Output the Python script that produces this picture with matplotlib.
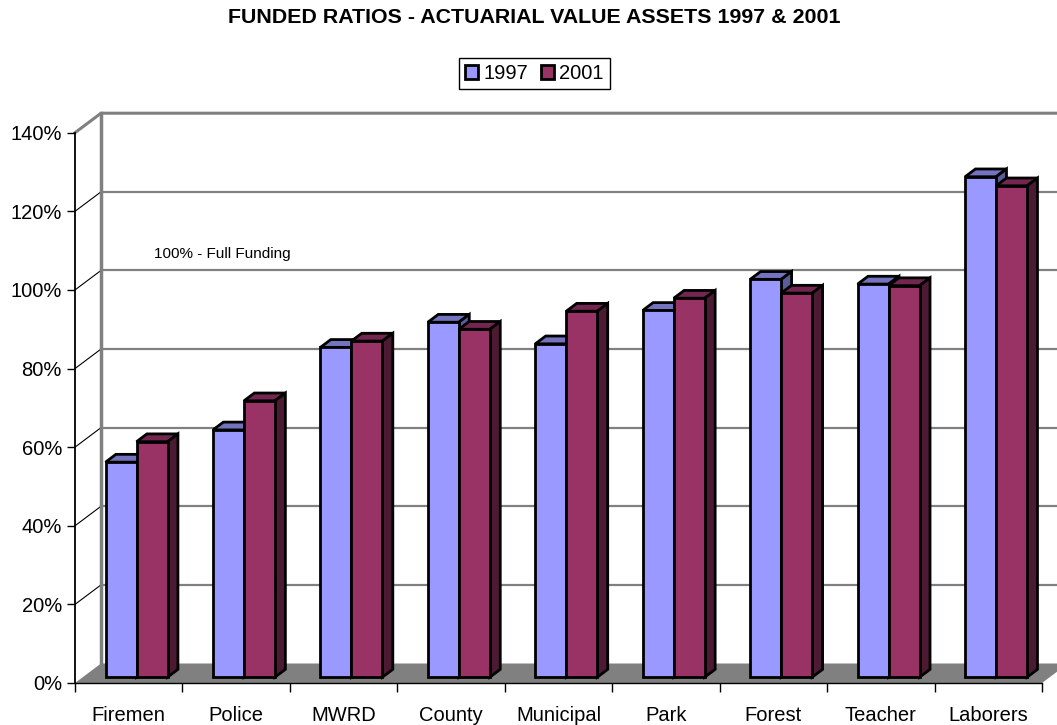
import matplotlib
matplotlib.use("Agg")
import matplotlib.pyplot as plt
from matplotlib.patches import Polygon, Patch
import numpy as np

categories = ["Firemen", "Police", "MWRD", "County", "Municipal", "Park", "Forest", "Teacher", "Laborers"]
funded_1997 = [54.7, 62.9, 83.9, 90.3, 84.8, 93.3, 101.2, 100.0, 127.3]
funded_2001 = [59.9, 70.3, 85.5, 88.5, 93.1, 96.4, 97.7, 99.6, 125.0]
y_ticks = [0, 20, 40, 60, 80, 100, 120, 140]
series = ["1997", "2001"]

# front / top / side colours of each series
front_cols = ["#9999FF", "#993366"]
top_cols = ["#7373BF", "#732650"]
side_cols = ["#5C5C99", "#4D1A33"]

plt.rcParams['font.family'] = ['Liberation Sans', 'DejaVu Sans']

W_PX, H_PX = 1057, 725
fig = plt.figure(figsize=(W_PX / 100, H_PX / 100), dpi=100)
ax = fig.add_axes([75 / W_PX, 42 / H_PX, 967 / W_PX, 550.3 / H_PX])
n = len(categories)
x0, x1 = -0.5, n - 0.5
ax.set_xlim(x0, x1)
ax.set_ylim(0, 140)
ax.patch.set_visible(False)

# depth of the fake 3d box, in data units
DX, DY = 0.242, 4.96
W = 0.2885
Z_FRONT, Z_BACK = 0.3, 0.7
LW = 2.0

# floor
ax.add_patch(Polygon([(x0, 0), (x1, 0), (x1 + DX, DY), (x0 + DX, DY)], closed=True,
                     fc='#808080', ec='none', clip_on=False, zorder=1))

# back wall + side wall lines
for v in y_ticks[1:-1]:
    ax.plot([x0 + DX, x1 + DX], [v + DY, v + DY], color='#808080', lw=1.6, clip_on=False, zorder=0.5)
    ax.plot([x0, x0 + DX], [v, v + DY], color='black', lw=0.8, clip_on=False, zorder=0.5)
top = y_ticks[-1]
ax.plot([x0, x0 + DX, x1 + DX], [top, top + DY, top + DY], color='#808080', lw=2.2, clip_on=False, zorder=0.5)
ax.plot([x0 + DX, x0 + DX], [DY, top + DY], color='#808080', lw=2.5, clip_on=False, zorder=0.5)


def draw_box(x, h, k, z):
    base = DY * Z_FRONT
    dx, dy = DX * (Z_BACK - Z_FRONT), DY * (Z_BACK - Z_FRONT)
    t = base + h
    ax.add_patch(Polygon([(x, t), (x + W, t), (x + W + dx, t + dy), (x + dx, t + dy)], closed=True,
                         fc=top_cols[k], ec='black', lw=LW, joinstyle='miter', clip_on=False, zorder=z))
    ax.add_patch(Polygon([(x + W, base), (x + W + dx, base + dy), (x + W + dx, t + dy), (x + W, t)], closed=True,
                         fc=side_cols[k], ec='black', lw=LW, joinstyle='miter', clip_on=False, zorder=z))
    ax.bar(x, h, width=W, bottom=base, align='edge', color=front_cols[k], edgecolor='black',
           lw=LW, zorder=z + 0.01)


z = 2
for i in range(n):
    xf = i + DX * Z_FRONT
    draw_box(xf - W, funded_1997[i], 0, z)
    z += 0.1
    draw_box(xf, funded_2001[i], 1, z)
    z += 0.1

for s in ['top', 'right']:
    ax.spines[s].set_visible(False)
ax.spines['left'].set_linewidth(1.3)
ax.spines['bottom'].set_linewidth(1.0)

ax.set_yticks(y_ticks)
ax.set_yticklabels([f"{v}%" for v in y_ticks])
ax.tick_params(axis='y', length=5.8, width=1, pad=3.6, labelsize=14.5)
ax.set_xticks(range(n))
ax.set_xticklabels(categories)
ax.set_xticks(np.arange(x0, x1 + 0.01, 1), minor=True)
ax.tick_params(axis='x', which='major', length=0, pad=16.5, labelsize=14.5)
ax.tick_params(axis='x', which='minor', length=6.5, width=1)

fig.text(534.5 / W_PX, 1 - 23 / H_PX, "FUNDED RATIOS - ACTUARIAL VALUE ASSETS 1997 & 2001",
         ha='center', va='baseline', fontsize=15.4, fontweight='bold')
fig.text(154 / W_PX, 1 - 258 / H_PX, "100% - Full Funding", ha='left', va='baseline', fontsize=11)

handles = [Patch(fc=front_cols[k], ec='black', lw=2) for k in range(2)]
leg = fig.legend(handles, series, ncol=2, loc='center', bbox_to_anchor=(534.5 / W_PX, 1 - 73.5 / H_PX),
                 frameon=True, fancybox=False, edgecolor='black', framealpha=1, fontsize=14.5,
                 handlelength=0.65, handleheight=0.65, handletextpad=0.27, columnspacing=0.6,
                 borderpad=0.3, borderaxespad=0)
leg.get_frame().set_linewidth(1)

fig.savefig("out.png", dpi=100)
